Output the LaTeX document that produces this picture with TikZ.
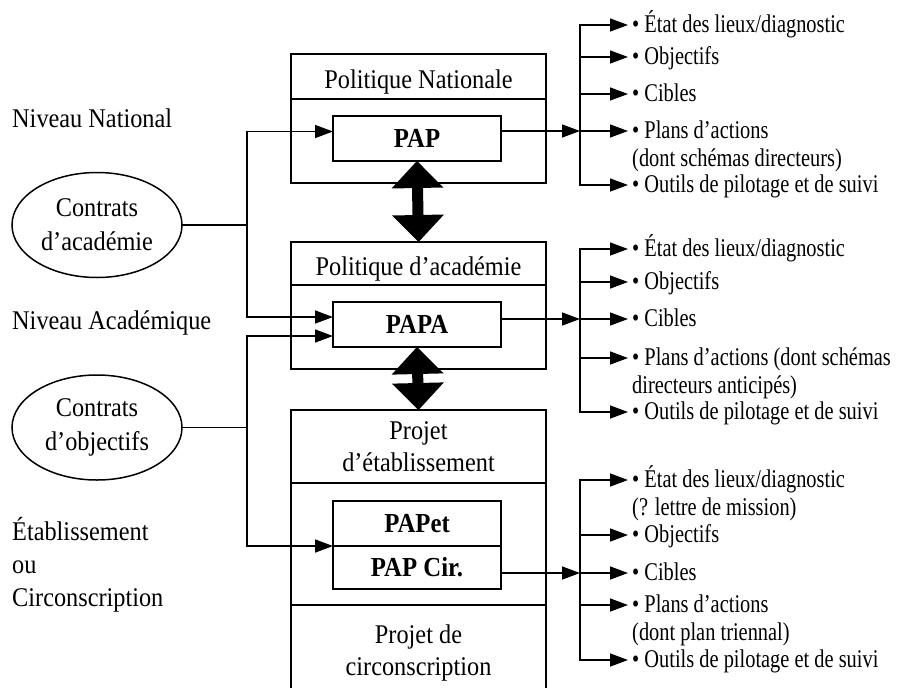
\documentclass[tikz,border=0pt]{standalone}
\usepackage{fontspec}
\setmainfont{Liberation Serif}[FakeStretch=0.9]
\newfontfamily\ItemFont{Liberation Serif}[FakeStretch=0.8]
\usetikzlibrary{arrows.meta,shapes.geometric,positioning}

\begin{document}
\begin{tikzpicture}[x=1pt,y=-1pt]
  \tikzset{LineStyle/.style = {
    draw          = black,
    line width    = 1.5pt
    }
  }
  \tikzset{ArrowStyle/.style = {
    LineStyle,
    -{Triangle[length=18pt,width=13pt]}
    }
  }
  \tikzset{BigArrowStyle/.style = {
    draw          = black,
    line width    = 11pt,
    {Triangle[length=27pt,width=52pt,line width=0pt]}-{Triangle[length=27pt,width=52pt,line width=0pt]}
    }
  }
  \tikzset{TitleStyle/.style = {
    shape         = rectangle,
    LineStyle,
    minimum width = 255pt,
    inner sep     = 0pt,
    outer sep     = 0pt,
    align         = center,
    anchor        = north,
    font          = \fontsize{27}{32}\selectfont
    }
  }
  \tikzset{InnerStyle/.style = {
    shape         = rectangle,
    LineStyle,
    fill          = white,
    minimum width = 168pt,
    minimum height= 45pt,
    inner sep     = 0pt,
    outer sep     = 0pt,
    font          = \fontsize{27.5}{30}\selectfont\bfseries
    }
  }
  \tikzset{ContractStyle/.style = {
    shape         = ellipse,
    LineStyle,
    minimum width = 170pt,
    minimum height= 105pt,
    inner sep     = 0pt,
    outer sep     = 0pt,
    align         = center,
    font          = \fontsize{27}{34}\selectfont
    }
  }
  \tikzset{LevelStyle/.style = {
    anchor        = base west,
    inner sep     = 0pt,
    align         = left,
    font          = \fontsize{27}{33}\selectfont
    }
  }
  \tikzset{ItemStyle/.style = {
    anchor        = base west,
    inner sep     = 0pt,
    align         = left,
    font          = \ItemFont\fontsize{25.5}{28.5}\selectfont
    }
  }

  \useasboundingbox (0,0) rectangle (901,688);

  % levels and contracts
  \node[LevelStyle](L1) at (12,127) {Niveau National};
  \node[LevelStyle](L2) at (12,329) {Niveau Académique};
  \node[LevelStyle](L3) at (12,606) {Établissement\\ou\\Circonscription};
  \node[ContractStyle](C1) at (97,225) {Contrats\\d’académie};
  \node[ContractStyle](C2) at (97,427.5) {Contrats\\d’objectifs};
  \coordinate (S1) at (247,225);
  \coordinate (S2) at (247,427.5);

  % central boxes
  \node[TitleStyle, minimum height=45pt, text height=28pt, text depth=5pt](T1) at (418.5,54) {Politique Nationale};
  \node[TitleStyle, minimum height=84pt](B1) at (T1.south) {};
  \node[InnerStyle](P1) at (417,138.5) {PAP};
  \node[TitleStyle, minimum height=43pt, text height=28pt, text depth=5pt](T2) at (418.5,242) {Politique d’académie};
  \node[TitleStyle, minimum height=84pt](B2) at (T2.south) {};
  \node[InnerStyle](P2) at (417,324.5) {PAPA};
  \node[TitleStyle, minimum height=73pt](T3) at (418.5,410) {Projet\\d’établissement};
  \node[TitleStyle, minimum height=122pt](B3) at (T3.south) {};
  \node[InnerStyle](P3) at (417,523.5) {PAPet};
  \node[InnerStyle, minimum height=43pt, anchor=north](P4) at (P3.south) {PAP Cir.};
  \node[TitleStyle, draw=none, minimum height=83pt, text height=63pt](B4) at (B3.south) {Projet de\\circonscription};
  \draw[LineStyle](B4.south west) -- (B4.north west);
  \draw[LineStyle](B4.north east) -- (B4.south east);

  \draw[BigArrowStyle](P1.south) -- (T2.north);
  \draw[BigArrowStyle](P2.south) -- (T3.north);

  % contracts to plans
  \draw[LineStyle](C1.east) -- (S1);
  \draw[ArrowStyle](S1) |- ([yshift=7pt]P1.west);
  \draw[ArrowStyle](S1) |- ([yshift=7.5pt]P2.west);
  \draw[LineStyle](C2.east) -- (S2);
  \draw[ArrowStyle](S2) |- ([yshift=-11.5pt]P2.west);
  \draw[ArrowStyle](S2) |- (P3.south west);

  % national list
  \coordinate (J1) at (580,131);
  \coordinate (K11) at (628,25);
  \coordinate (K12) at (628,57);
  \coordinate (K13) at (628,94);
  \coordinate (K14) at (628,131);
  \coordinate (K15) at (628,185);
  \node[ItemStyle](I11) at (632,32) {• État des lieux/diagnostic};
  \node[ItemStyle](I12) at (632,64) {• Objectifs};
  \node[ItemStyle](I13) at (632,101) {• Cibles};
  \node[ItemStyle](I14) at (632,166.5) {• Plans d’actions\\(dont schémas directeurs)};
  \node[ItemStyle](I15) at (632,192) {• Outils de pilotage et de suivi};
  \draw[ArrowStyle]([yshift=7.5pt]P1.east) -- (J1);
  \draw[ArrowStyle](J1) |- (K11);
  \draw[ArrowStyle](J1 |- K12) -- (K12);
  \draw[ArrowStyle](J1 |- K13) -- (K13);
  \draw[ArrowStyle](J1) -- (K14);
  \draw[ArrowStyle](J1) |- (K15);

  % academic list
  \coordinate (J2) at (580,319);
  \coordinate (K21) at (628,249);
  \coordinate (K22) at (628,282);
  \coordinate (K23) at (628,319);
  \coordinate (K24) at (628,358);
  \coordinate (K25) at (628,412);
  \node[ItemStyle](I21) at (632,256) {• État des lieux/diagnostic};
  \node[ItemStyle](I22) at (632,289) {• Objectifs};
  \node[ItemStyle](I23) at (632,326) {• Cibles};
  \node[ItemStyle](I24) at (632,393.5) {• Plans d’actions (dont schémas\\directeurs anticipés)};
  \node[ItemStyle](I25) at (632,419) {• Outils de pilotage et de suivi};
  \draw[ArrowStyle]([yshift=5.5pt]P2.east) -- (J2);
  \draw[ArrowStyle](J2) |- (K21);
  \draw[ArrowStyle](J2 |- K22) -- (K22);
  \draw[ArrowStyle](J2) -- (K23);
  \draw[ArrowStyle](J2 |- K24) -- (K24);
  \draw[ArrowStyle](J2) |- (K25);

  % local list
  \coordinate (J3) at (580,573);
  \coordinate (K31) at (628,480);
  \coordinate (K32) at (628,535);
  \coordinate (K33) at (628,573);
  \coordinate (K34) at (628,605);
  \coordinate (K35) at (628,660);
  \node[ItemStyle](I31) at (632,515.5) {• État des lieux/diagnostic\\(? lettre de mission)};
  \node[ItemStyle](I32) at (632,542) {• Objectifs};
  \node[ItemStyle](I33) at (632,580) {• Cibles};
  \node[ItemStyle](I34) at (632,640.5) {• Plans d’actions\\(dont plan triennal)};
  \node[ItemStyle](I35) at (632,667) {• Outils de pilotage et de suivi};
  \draw[ArrowStyle]([yshift=-5.5pt]P4.east) -- (J3);
  \draw[ArrowStyle](J3) |- (K31);
  \draw[ArrowStyle](J3 |- K32) -- (K32);
  \draw[ArrowStyle](J3) -- (K33);
  \draw[ArrowStyle](J3 |- K34) -- (K34);
  \draw[ArrowStyle](J3) |- (K35);

\end{tikzpicture}
\end{document}
